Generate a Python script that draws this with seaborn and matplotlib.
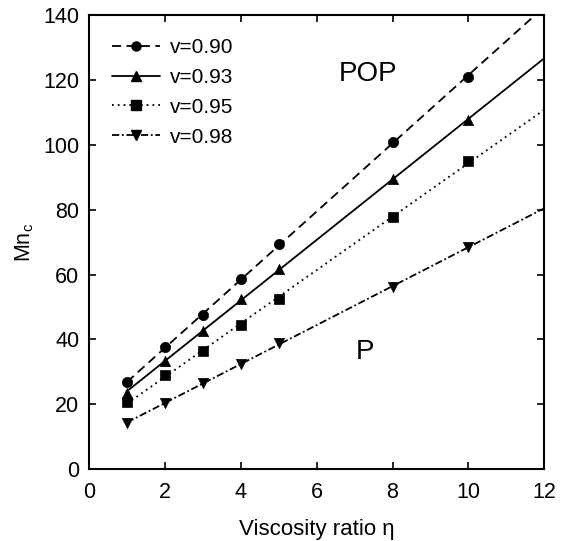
import matplotlib
matplotlib.use("Agg")
import matplotlib.pyplot as plt
from matplotlib.lines import Line2D
import numpy as np
import pandas as pd
import seaborn as sns

# dati
eta = [1, 2, 3, 4, 5, 8, 10]
mnc_090 = [26.7, 37.5, 47.4, 58.5, 69.5, 100.9, 121.0]
mnc_093 = [23.6, 33.4, 42.5, 52.5, 61.6, 89.6, 107.6]
mnc_095 = [20.6, 29.0, 36.5, 44.4, 52.4, 77.6, 95.0]
mnc_098 = [14.3, 20.3, 26.4, 32.4, 38.8, 56.1, 68.5]

labels = ["v=0.90", "v=0.93", "v=0.95", "v=0.98"]
series = [mnc_090, mnc_093, mnc_095, mnc_098]
markers = ["o", "^", "s", "v"]
styles = [(0, (5, 3)), "-", (0, (1, 2.2)), (0, (4, 1.5, 1, 1.5))]

sns.set_style("ticks")
plt.rcParams["font.family"] = ["Liberation Sans", "DejaVu Sans"]
for k in ["text.color", "axes.labelcolor", "xtick.color", "ytick.color", "axes.edgecolor"]:
    plt.rcParams[k] = "black"

fig = plt.figure(figsize=(5.64, 5.41), dpi=100)
ax = fig.add_axes([0.158, 0.133, 0.807, 0.839])

handles = []
for lab, y, m, ls in zip(labels, series, markers, styles):
    df = pd.DataFrame({"eta": eta, "Mnc": y})
    # retta di fit estesa fino a 12
    k, q = np.polyfit(df["eta"], df["Mnc"], 1)
    xf = np.array([1.0, 12.0])
    fit = pd.DataFrame({"eta": xf, "Mnc": k * xf + q})
    sns.lineplot(x="eta", y="Mnc", data=fit, ax=ax, color="black",
                 linestyle=ls, linewidth=1.3)
    sns.scatterplot(x="eta", y="Mnc", data=df, ax=ax, color="black",
                    marker=m, s=55, edgecolor="black", linewidth=0.5, zorder=3)
    handles.append(Line2D([], [], color="black", linestyle=ls, linewidth=1.3,
                          marker=m, markersize=6.5, label=lab))

ax.set_xlim(0, 12)
ax.set_ylim(0, 140)
ax.set_xticks(range(0, 13, 2))
ax.set_yticks(range(0, 141, 20))
ax.tick_params(direction="in", top=True, right=True, length=5, width=1.2,
               labelsize=15.5)
ax.tick_params(axis="x", pad=9)
ax.tick_params(axis="y", pad=7)
for s in ax.spines.values():
    s.set_linewidth(1.5)

ax.set_xlabel("Viscosity ratio η", fontsize=16, labelpad=12)
ax.set_ylabel("Mn$_\\mathregular{c}$", fontsize=15.5, labelpad=5)

ax.text(7.36, 121.8, "POP", fontsize=20, ha="center", va="center")
ax.text(7.28, 36.1, "P", fontsize=20, ha="center", va="center")

ax.legend(handles=handles, loc="upper left", frameon=False, fontsize=15,
          handlelength=2.3, handletextpad=0.5, labelspacing=0.52,
          borderaxespad=0.7)

plt.savefig("out.png", dpi=100)
